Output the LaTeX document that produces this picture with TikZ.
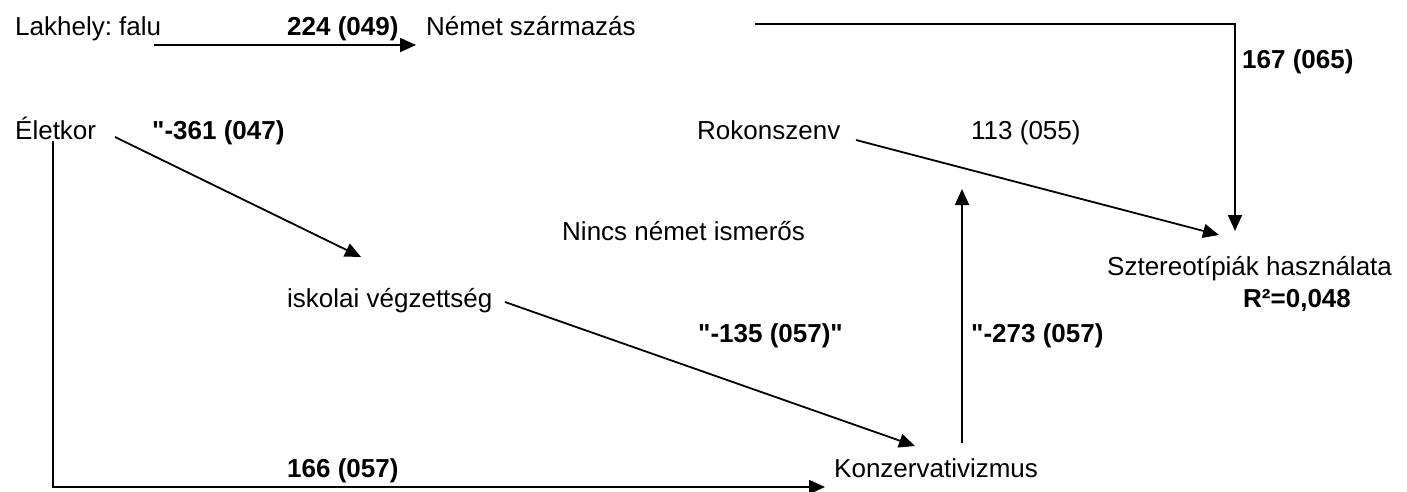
\documentclass[tikz,border=0pt]{standalone}
\usepackage{fontspec}
\setmainfont{Liberation Sans}[Ligatures=TeXOff]
\usetikzlibrary{arrows.meta}
\begin{document}
\frenchspacing
\begin{tikzpicture}[x=1pt,y=-1pt,
  lbl/.style={anchor=base west,inner sep=0pt,font=\fontsize{26}{30}\selectfont},
  blbl/.style={lbl,font=\fontsize{26}{30}\selectfont\bfseries},
  conn/.style={line width=1.8pt},
  arr/.style={conn,-{Triangle[length=16pt,width=14pt]}}]
\useasboundingbox (0,0) rectangle (1407,491);
% nodes
\node[lbl] (lak) at (15,35) {Lakhely: falu};
\node[blbl] (l224) at (287,35) {224 (049)};
\node[lbl] (nem) at (426,35) {Német származás};
\node[blbl] (l167) at (1242,68) {167 (065)};
\node[lbl] (elet) at (15,139) {Életkor};
\node[blbl] (l361) at (152,139) {"-361 (047)};
\node[lbl] (rok) at (697,139) {Rokonszenv};
\node[lbl] (l113) at (971,139) {113 (055)};
\node[lbl] (ninc) at (562,240) {Nincs német ismerős};
\node[lbl] (szt) at (1107,275) {Sztereotípiák használata};
\node[blbl] (r2) at (1243,307) {R²=0,048};
\node[lbl] (isk) at (287,307) {iskolai végzettség};
\node[blbl] (l135) at (698,342) {"-135 (057)"};
\node[blbl] (l273) at (971,342) {"-273 (057)};
\node[lbl] (kon) at (834,477) {Konzervativizmus};
\node[blbl] (l166) at (287,477) {166 (057)};
% connector end points
\coordinate (a1) at (154,45);
\coordinate (a2) at (416,45);
\coordinate (b1) at (755,24);
\coordinate (b2) at (1235,24);
\coordinate (b3) at (1235,231);
\coordinate (c1) at (115,137);
\coordinate (c2) at (361,257);
\coordinate (d1) at (53,141);
\coordinate (d2) at (53,487);
\coordinate (d3) at (825,487);
\coordinate (e1) at (856,140);
\coordinate (e2) at (1219,235);
\coordinate (f1) at (962,443);
\coordinate (f2) at (962,189);
\coordinate (g1) at (505,302);
\coordinate (g2) at (915,446);
% connectors
\draw[arr] (a1) -- (a2);
\draw[arr] (b1) -- (b2) -- (b3);
\draw[arr] (c1) -- (c2);
\draw[arr] (d1) -- (d2) -- (d3);
\draw[arr] (e1) -- (e2);
\draw[arr] (f1) -- (f2);
\draw[arr] (g1) -- (g2);
\end{tikzpicture}
\end{document}
